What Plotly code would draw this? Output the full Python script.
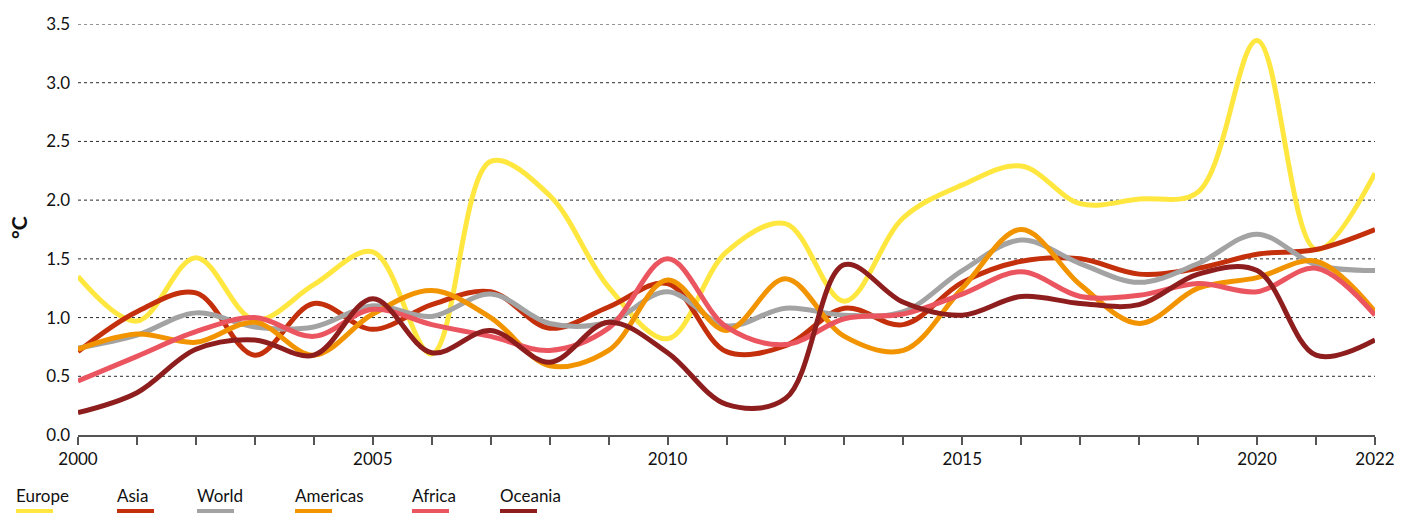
import plotly.graph_objects as go

# Temperature anomaly by region, °C
years = list(range(2000, 2023))

europe = [1.35, 0.97, 1.51, 0.98, 1.28, 1.56, 0.69, 2.33, 2.04, 1.26, 0.82, 1.56,
          1.80, 1.14, 1.85, 2.13, 2.29, 1.97, 2.01, 2.07, 3.36, 1.58, 2.23]
asia = [0.71, 1.05, 1.21, 0.68, 1.12, 0.90, 1.11, 1.22, 0.91, 1.09, 1.29, 0.71,
        0.76, 1.08, 0.94, 1.30, 1.48, 1.50, 1.37, 1.42, 1.54, 1.58, 1.75]
world = [0.74, 0.85, 1.04, 0.92, 0.92, 1.10, 1.01, 1.20, 0.95, 0.96, 1.22, 0.93,
         1.08, 1.02, 1.05, 1.40, 1.66, 1.46, 1.30, 1.46, 1.71, 1.45, 1.40]
americas = [0.73, 0.86, 0.79, 0.96, 0.68, 1.03, 1.23, 1.00, 0.59, 0.72, 1.32, 0.89,
            1.33, 0.84, 0.72, 1.25, 1.75, 1.28, 0.95, 1.25, 1.34, 1.48, 1.05]
africa = [0.46, 0.67, 0.88, 1.00, 0.84, 1.07, 0.94, 0.84, 0.72, 0.91, 1.50, 0.92,
          0.77, 0.99, 1.03, 1.20, 1.39, 1.18, 1.19, 1.29, 1.22, 1.42, 1.02]
oceania = [0.19, 0.36, 0.73, 0.81, 0.68, 1.16, 0.70, 0.89, 0.62, 0.96, 0.70, 0.26,
           0.31, 1.45, 1.13, 1.02, 1.18, 1.12, 1.11, 1.37, 1.40, 0.68, 0.81]

series_names = ["Europe", "Asia", "World", "Americas", "Africa", "Oceania"]
series_values = [europe, asia, world, americas, africa, oceania]
series_colors = ["#FFE740", "#C4300C", "#A3A3A3", "#F29400", "#EA5560", "#8E1E1E"]

y_ticks = [0.0, 0.5, 1.0, 1.5, 2.0, 2.5, 3.0, 3.5]
x_tick_labels = {2000: "2000", 2005: "2005", 2010: "2010", 2015: "2015", 2020: "2020", 2022: "2022"}

FONT = "Lato"
W, H = 1410, 513
L, R, T, B = 78, 35, 24, 78

fig = go.Figure()
for name, vals, col in zip(series_names, series_values, series_colors):
    fig.add_trace(go.Scatter(
        x=years, y=vals, name=name, mode="lines",
        line=dict(color=col, width=5, shape="spline", smoothing=1.0),
        showlegend=False, hoverinfo="x+y+name",
    ))

# Dashed horizontal gridlines
for v in y_ticks[1:]:
    fig.add_shape(type="line", xref="paper", yref="y", x0=0, x1=1, y0=v, y1=v,
                  line=dict(color="#2a2a2a", width=1, dash="3px,3px"), layer="below")

# Hand-built legend: label on top, colour bar underneath
plot_w = W - L - R
plot_h = H - T - B
legend_x = [16, 117, 197, 295, 412, 500]


def px_to_paper_x(px):
    return (px - L) / plot_w


def px_to_paper_y(py):
    return (H - B - py) / plot_h


for name, col, lx in zip(series_names, series_colors, legend_x):
    fig.add_annotation(text=name, xref="paper", yref="paper",
                       x=px_to_paper_x(lx - 2), y=px_to_paper_y(495),
                       xanchor="left", yanchor="middle", showarrow=False,
                       font=dict(family=FONT, size=17, color="#111111"))
    fig.add_shape(type="rect", xref="paper", yref="paper",
                  x0=px_to_paper_x(lx), x1=px_to_paper_x(lx + 37),
                  y0=px_to_paper_y(518), y1=px_to_paper_y(509),
                  fillcolor=col, line=dict(width=0))

fig.add_annotation(text="<b>°C</b>", xref="paper", yref="paper",
                   x=px_to_paper_x(19), y=px_to_paper_y(228),
                   textangle=-90, showarrow=False, xanchor="center", yanchor="middle",
                   font=dict(family=FONT, size=21, color="#111111"))

fig.update_layout(
    width=W, height=H,
    margin=dict(l=L, r=R, t=T, b=B, pad=0),
    paper_bgcolor="white", plot_bgcolor="white",
    font=dict(family=FONT, size=17, color="#111111"),
    xaxis=dict(
        range=[2000, 2022], tickmode="array", tickvals=years,
        ticktext=[x_tick_labels.get(y, "") for y in years],
        ticks="outside", ticklen=8, tickwidth=1.5, tickcolor="#555555",
        showline=True, linecolor="#555555", linewidth=2,
        showgrid=False, zeroline=False,
        tickfont=dict(family=FONT, size=17, color="#111111"),
    ),
    yaxis=dict(
        range=[0, 3.5], tickmode="array", tickvals=y_ticks,
        ticktext=[f"{v:.1f}" for v in y_ticks],
        showgrid=False, zeroline=False, showline=False, ticks="",
        ticklabelstandoff=7,
        tickfont=dict(family=FONT, size=17, color="#111111"),
    ),
)

fig.write_html("out.html")
